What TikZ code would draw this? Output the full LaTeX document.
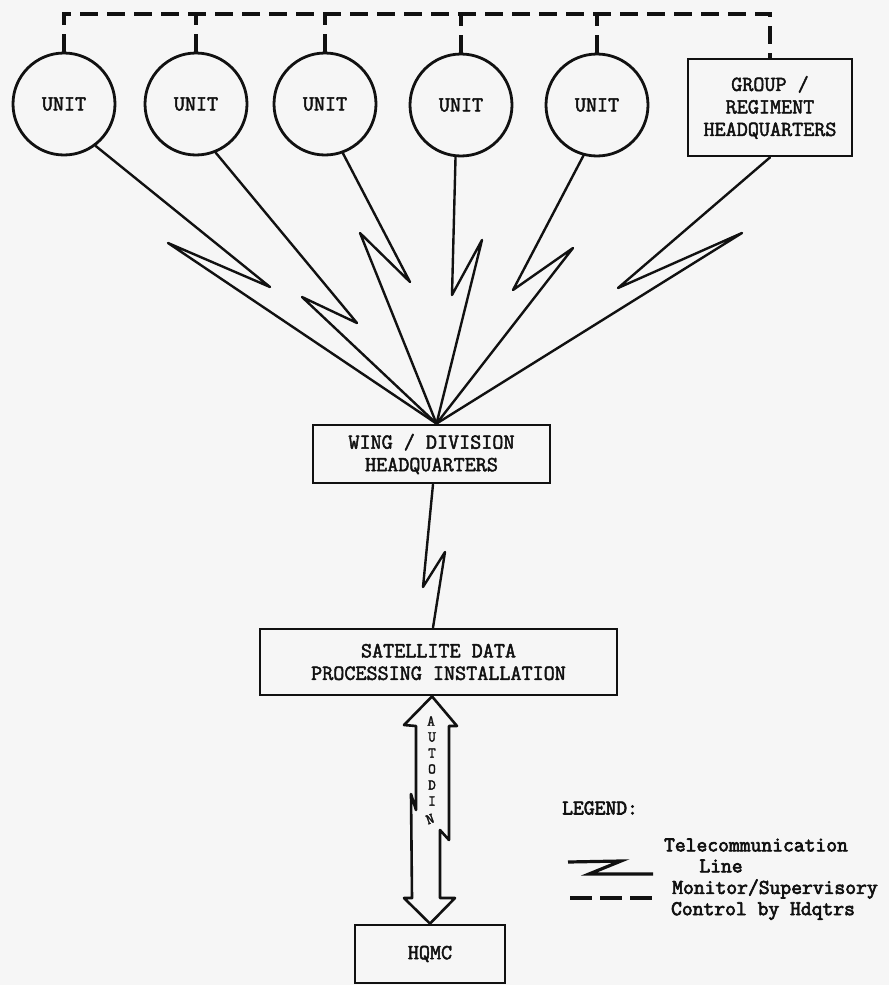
\documentclass[tikz,border=0pt]{standalone}
\usepackage{fontspec}
\newfontfamily\typew{Latin Modern Mono}[FakeBold=2.2]
\newfontfamily\legtypew{Latin Modern Mono}[FakeBold=3.2]
\definecolor{paper}{HTML}{F6F6F6}
\definecolor{ink}{HTML}{111111}
\begin{document}
\begin{tikzpicture}[x=1pt,y=-1pt,
  boxfont/.style={font=\typew\bfseries\fontsize{21.5}{22.5}\selectfont},
  legfont/.style={font=\legtypew\bfseries\fontsize{21}{20}\selectfont},
  unitc/.style={draw=ink, circle, line width=2.8pt, minimum size=102pt, inner sep=0pt, boxfont, text=ink},
  boxn/.style={draw=ink, rectangle, line width=2.8pt, inner sep=0pt, align=center, boxfont, text=ink},
  tele/.style={draw=ink, line width=2.4pt, line join=round, line cap=round},
  ctrl/.style={draw=ink, line width=3.2pt, dash pattern=on 18pt off 9pt},
  arrowshape/.style={draw=ink, line width=2.6pt, line join=round},
  letter/.style={inner sep=0pt, font=\typew\bfseries\fontsize{15}{15}\selectfont, text=ink},
  legtext/.style={inner sep=0pt, legfont, text=ink}
]
\fill[paper] (0,0) rectangle (889,985);
\useasboundingbox (0,0) rectangle (889,985);

% units and headquarters
\node[unitc] (u1) at (64,104) {UNIT};
\node[unitc] (u2) at (196,104) {UNIT};
\node[unitc] (u3) at (325,104) {UNIT};
\node[unitc] (u4) at (461,105) {UNIT};
\node[unitc] (u5) at (597,105) {UNIT};
\node[boxn, minimum width=164pt, minimum height=97pt] (g) at (770,107.5) {GROUP /\\REGIMENT\\HEADQUARTERS};

\node[boxn, minimum width=237pt, minimum height=58pt] (w) at (431.5,454) {WING / DIVISION\\HEADQUARTERS};
\node[boxn, minimum width=357pt, minimum height=66pt] (s) at (438.5,662) {SATELLITE DATA\\PROCESSING INSTALLATION};
\node[boxn, minimum width=150pt, minimum height=58pt] (h) at (430,954) {HQMC};

% monitor / supervisory control
\coordinate (top) at (0,14);
\draw[ctrl] (u1.north) -- (u1.north |- top) -- (g.north |- top) -- (g.north);
\foreach \u in {u2,u3,u4,u5} \draw[ctrl] (\u.north) -- (\u.north |- top);

% telecommunication lines
\coordinate (apex) at ([xshift=5pt]w.north);
\draw[tele] (u1.-53) -- (270,287) -- (168,243) -- (apex);
\draw[tele] (u2.-68) -- (357,323) -- (302,297) -- (apex);
\draw[tele] (u3.-70) -- (410,282) -- (360,233) -- (apex);
\draw[tele] (u4.-96) -- (452,295) -- (482,240) -- (apex);
\draw[tele] (u5.-105) -- (513,290) -- (573,248) -- (apex);
\draw[tele] (g.south) -- (618,288) -- (742,233) -- (apex);

\draw[tele] ([xshift=1.5pt]w.south) -- (423,587) -- (445,552) -- ([xshift=-5.5pt]s.north);

% AUTODIN double arrow
\coordinate (atop) at ([xshift=-6.5pt]s.south);
\draw[arrowshape] (atop) -- (457,726) -- (449,726) -- (449,840) -- (440,830)
  -- (440,898) -- (455,898) -- (h.north) -- (404,898) -- (412,898) -- (411,794)
  -- (416,810) -- (416,726) -- (404,725) -- cycle;
\node[letter] (la) at (431,721) {A};
\node[letter] (lu) at (432,737) {U};
\node[letter] (lt) at (432,753) {T};
\node[letter] (lo) at (432,769) {O};
\node[letter] (ld) at (432,785) {D};
\node[letter] (li) at (432,801) {I};
\node[letter, rotate=20] (ln) at (430,819) {N};

% legend
\node[legtext, anchor=west] (leg) at (562,808) {LEGEND:};
\draw[draw=ink, line width=3.2pt, line join=miter] (568,862) -- (621,861) -- (589,874) -- (653,874);
\node[legtext] (t1) at (756,845) {Telecommunication};
\node[legtext] (t2) at (721,866) {Line};
\draw[draw=ink, line width=3.2pt, dash pattern=on 22pt off 8pt] (570,898) -- (652,898);
\node[legtext] (m1) at (775,889) {Monitor/Supervisory};
\node[legtext] (m2) at (763,911) {Control by Hdqtrs};
\end{tikzpicture}
\end{document}
